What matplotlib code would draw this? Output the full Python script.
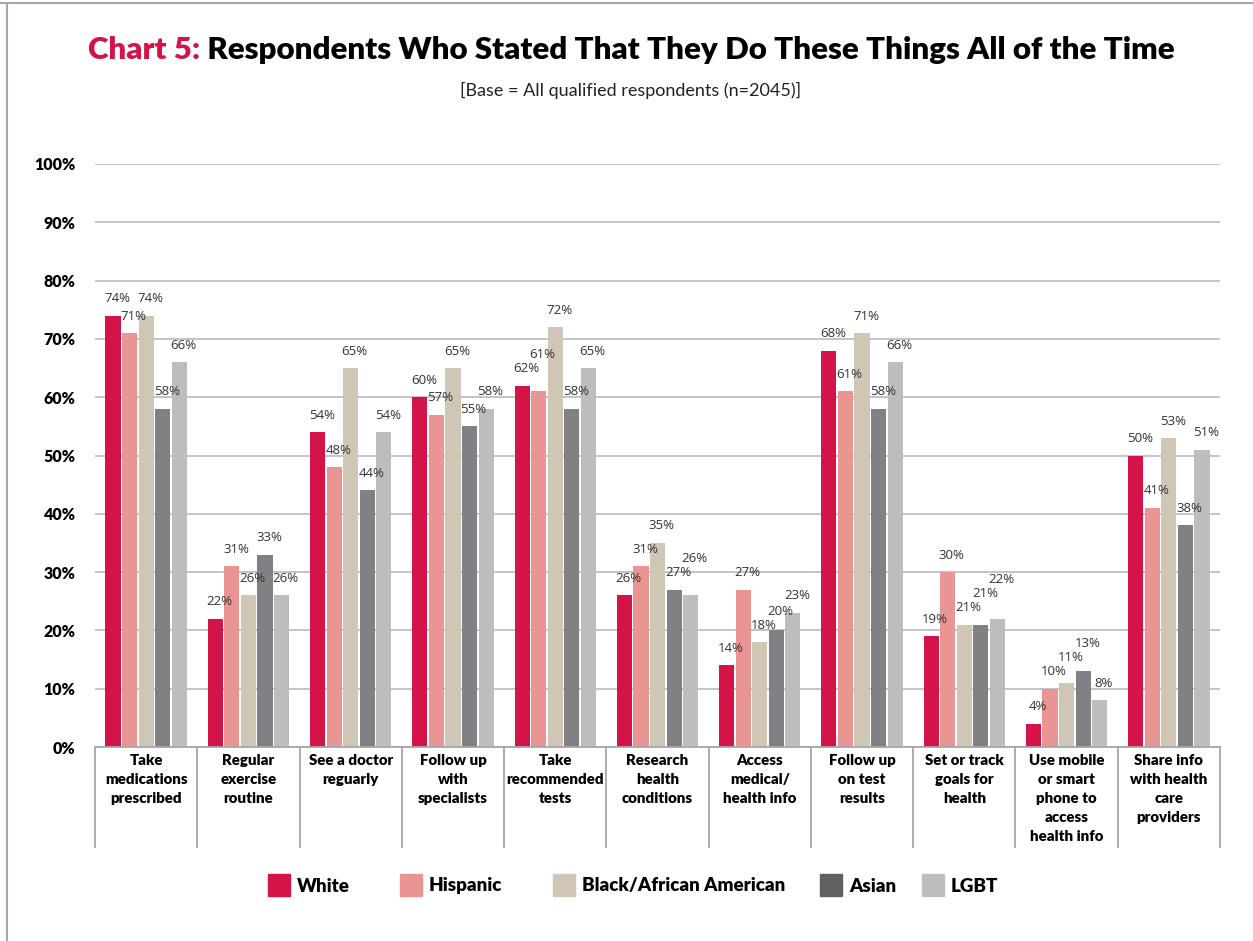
import numpy as np
import matplotlib
matplotlib.use("Agg")
import matplotlib.pyplot as plt
from matplotlib.patches import Rectangle
from matplotlib.lines import Line2D

plt.rcParams['font.family'] = ['Lato', 'DejaVu Sans']

#------------------------------------------- Data ---------------------------------#
categories = [
    "Take\nmedications\nprescribed",
    "Regular\nexercise\nroutine",
    "See a doctor\nreguarly",
    "Follow up\nwith\nspecialists",
    "Take\nrecommended\ntests",
    "Research\nhealth\nconditions",
    "Access\nmedical/\nhealth info",
    "Follow up\non test\nresults",
    "Set or track\ngoals for\nhealth",
    "Use mobile\nor smart\nphone to\naccess\nhealth info",
    "Share info\nwith health\ncare\nproviders",
]
groups = ["White", "Hispanic", "Black/African American", "Asian", "LGBT"]
white    = [74, 22, 54, 60, 62, 26, 14, 68, 19, 4, 50]
hispanic = [71, 31, 48, 57, 61, 31, 27, 61, 30, 10, 41]
black    = [74, 26, 65, 65, 72, 35, 18, 71, 21, 11, 53]
asian    = [58, 33, 44, 55, 58, 27, 20, 58, 21, 13, 38]
lgbt     = [66, 26, 54, 58, 65, 26, 23, 66, 22, 8, 51]
yticks = [0, 10, 20, 30, 40, 50, 60, 70, 80, 90, 100]

series = [white, hispanic, black, asian, lgbt]
colors = ["#D41449", "#E99593", "#D0C6B6", "#818185", "#BDBDC0"]
legend_colors = ["#D41449", "#E99593", "#D0C6B6", "#616165", "#BDBDC0"]

#------------------------------------------- Figure ---------------------------------#
fig = plt.figure(figsize=(12.53, 9.41), dpi=100)
ax = fig.add_axes([95 / 1253, 1 - 747 / 941, 1125 / 1253, 583 / 941])

n = len(categories)
x = np.arange(n)
bw = 0.148
step = 0.162
offsets = (np.arange(5) - 2) * step

for k, (vals, col) in enumerate(zip(series, colors)):
    ax.bar(x + offsets[k], vals, width=bw, color=col, zorder=3)

# value labels, pushed up when they would sit on top of the neighbour's label
lab_h = 2.4
for i in range(n):
    prev_y = None
    for k in range(5):
        v = series[k][i]
        y = v + 1.8
        if prev_y is not None and prev_y - 1.5 < y < prev_y + lab_h:
            y = prev_y + lab_h
        prev_y = y
        ax.text(i + offsets[k] + 0.04, y, f"{v}%", ha="center", va="bottom",
                fontsize=9.5, color="#333333", zorder=4,
                family=["Open Sans", "DejaVu Sans"])

ax.set_xlim(-0.5, n - 0.5)
ax.set_ylim(0, 100)
ax.set_yticks(yticks)
ax.set_yticklabels([f"{t}%" for t in yticks], fontsize=11.5, fontweight="heavy")
ax.tick_params(axis="y", length=0, pad=14)
ax.set_xticks([])
ax.grid(axis="y", color="#BFBFBF", lw=1.3, zorder=0)
for s in ["top", "right", "left"]:
    ax.spines[s].set_visible(False)
ax.spines["bottom"].set_color("#A6A6A6")
ax.spines["bottom"].set_linewidth(1.3)
ax.spines["bottom"].set_zorder(5)

# category separators and labels under the axis
ax.vlines(np.arange(n + 1) - 0.5, -17.3, 0, color="#A6A6A6", lw=1.3, clip_on=False)
for i, lab in enumerate(categories):
    ax.text(i, -1.2, lab, ha="center", va="top", fontsize=10.8,
            fontweight="heavy", linespacing=1.55, clip_on=False)

#------------------------------------------- Titles ---------------------------------#
fig.canvas.draw()
r = fig.canvas.get_renderer()
t1 = fig.text(0, 1 - 50 / 941, "Chart 5:", fontsize=22.5, fontweight="heavy",
              color="#D41449", va="center")
t2 = fig.text(0, 1 - 50 / 941, " Respondents Who Stated That They Do These Things All of the Time",
              fontsize=22.5, fontweight="heavy", color="black", va="center")
w1 = t1.get_window_extent(r).width
w2 = t2.get_window_extent(r).width
x0 = 631 - (w1 + w2) / 2
t1.set_x(x0 / 1253)
t2.set_x((x0 + w1) / 1253)
fig.text(631 / 1253, 1 - 90 / 941, "[Base = All qualified respondents (n=2045)]",
         fontsize=13, ha="center", va="center", color="#222222")

#------------------------------------------- Legend ---------------------------------#
legend_x = [268, 400, 553, 820, 922]
for lx, name, col in zip(legend_x, groups, legend_colors):
    fig.add_artist(Rectangle((lx / 1253, 1 - 896 / 941), 22 / 1253, 22 / 941,
                             transform=fig.transFigure, color=col))
    fig.text((lx + 29) / 1253, 1 - 886 / 941, name, fontsize=13.5,
             fontweight="heavy", va="center")

# outer frame
fig.add_artist(Line2D([0, 1], [1 - 3 / 941] * 2, color="#A6A6A6", lw=1.5,
                      transform=fig.transFigure))
fig.add_artist(Line2D([7 / 1253] * 2, [0, 1 - 3 / 941], color="#A6A6A6", lw=1.5,
                      transform=fig.transFigure))

fig.savefig("out.png", dpi=100)
